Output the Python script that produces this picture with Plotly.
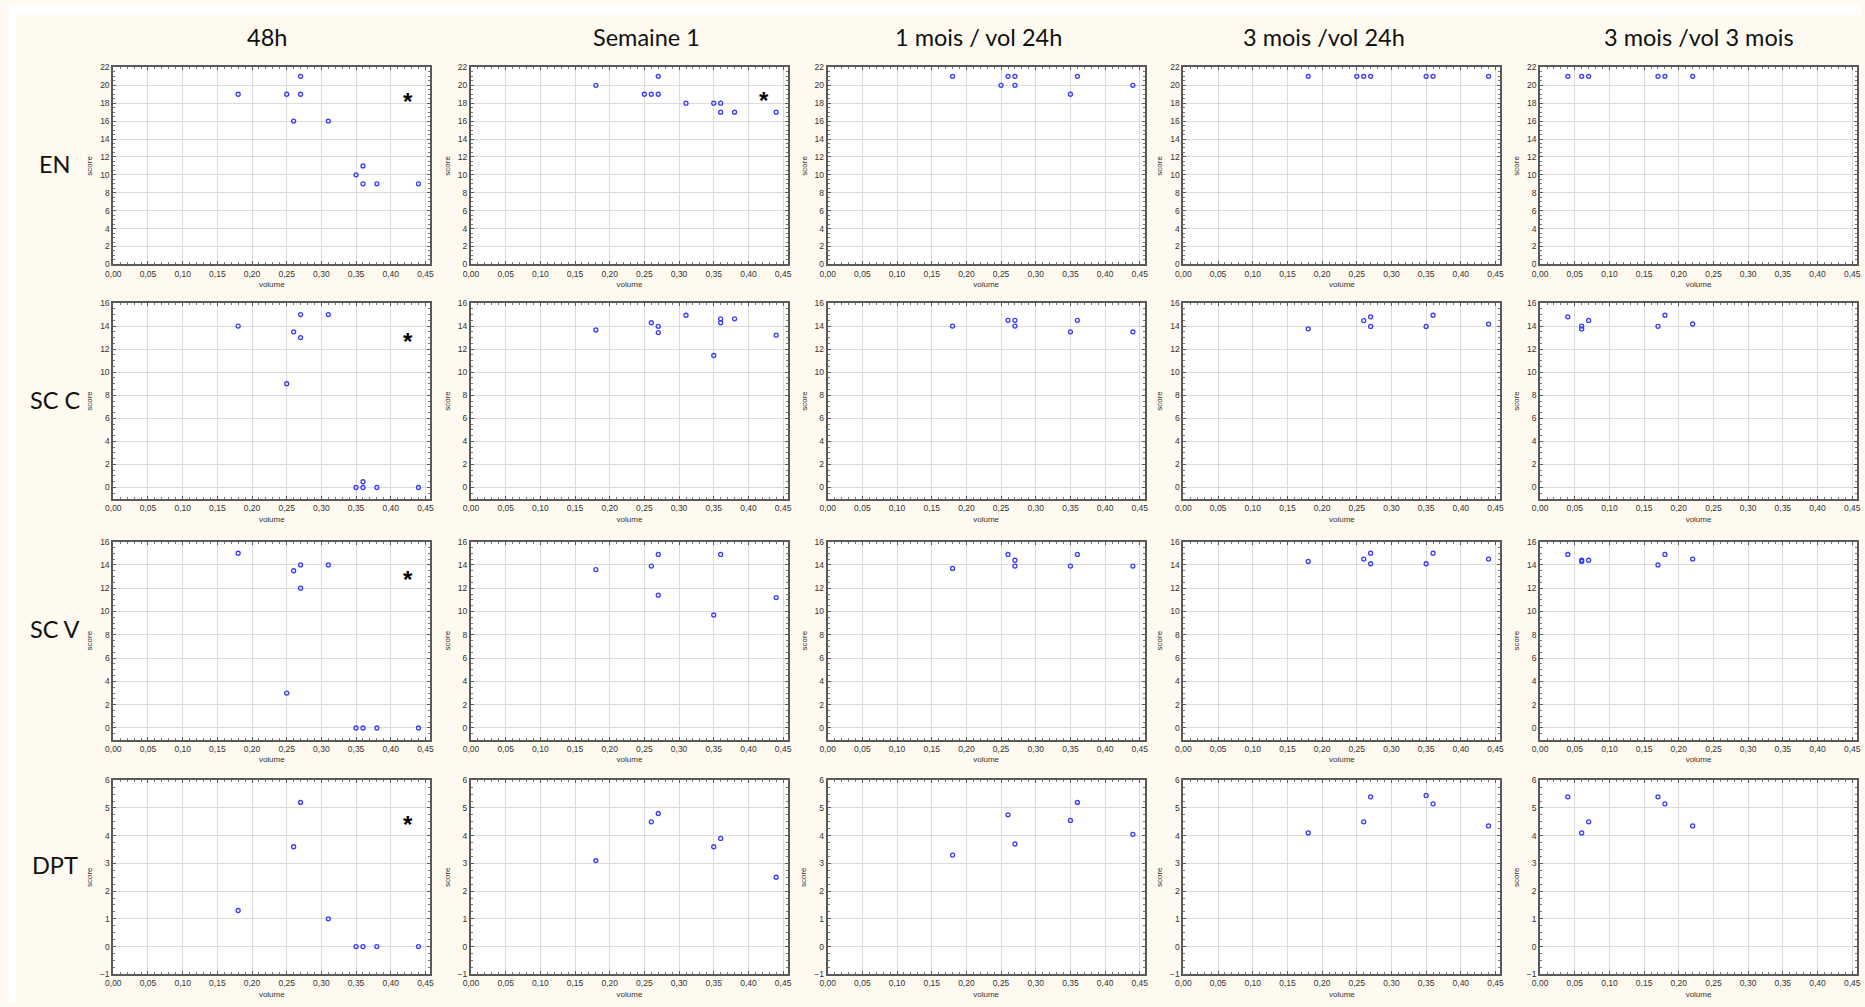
import plotly.graph_objects as go

W, H = 1865, 1007

columns = ["48h", "Semaine 1", "1 mois / vol 24h", "3 mois /vol 24h", "3 mois /vol 3 mois"]
rows = ["EN", "SC C", "SC V", "DPT"]

# ---- EN ----
en_48h_x = [0.18, 0.25, 0.27, 0.27, 0.26, 0.31, 0.35, 0.36, 0.36, 0.38, 0.44]
en_48h_y = [19, 19, 21, 19, 16, 16, 10, 11, 9, 9, 9]
en_s1_x = [0.18, 0.25, 0.26, 0.27, 0.27, 0.31, 0.35, 0.36, 0.36, 0.38, 0.44]
en_s1_y = [20, 19, 19, 21, 19, 18, 18, 18, 17, 17, 17]
en_m1_x = [0.18, 0.25, 0.26, 0.27, 0.27, 0.35, 0.36, 0.44]
en_m1_y = [21, 20, 21, 21, 20, 19, 21, 20]
en_m3_x = [0.18, 0.25, 0.26, 0.27, 0.35, 0.36, 0.44]
en_m3_y = [21, 21, 21, 21, 21, 21, 21]
en_m3v_x = [0.04, 0.06, 0.07, 0.17, 0.18, 0.22]
en_m3v_y = [21, 21, 21, 21, 21, 21]

# ---- SC C ----
scc_48h_x = [0.18, 0.26, 0.27, 0.27, 0.31, 0.25, 0.35, 0.36, 0.36, 0.38, 0.44]
scc_48h_y = [14, 13.5, 15, 13, 15, 9, 0, 0.5, 0, 0, 0]
scc_s1_x = [0.18, 0.26, 0.27, 0.27, 0.31, 0.35, 0.36, 0.36, 0.38, 0.44]
scc_s1_y = [13.67, 14.29, 13.98, 13.44, 14.94, 11.45, 14.63, 14.29, 14.63, 13.21]
scc_m1_x = [0.18, 0.26, 0.27, 0.27, 0.35, 0.36, 0.44]
scc_m1_y = [14, 14.5, 14.5, 14, 13.5, 14.5, 13.5]
scc_m3_x = [0.18, 0.26, 0.27, 0.27, 0.35, 0.36, 0.44]
scc_m3_y = [13.76, 14.48, 14.8, 13.97, 13.97, 14.94, 14.17]
scc_m3v_x = [0.04, 0.06, 0.06, 0.07, 0.17, 0.18, 0.22]
scc_m3v_y = [14.8, 14.0, 13.75, 14.49, 13.98, 14.94, 14.18]

# ---- SC V ----
scv_48h_x = [0.18, 0.26, 0.27, 0.27, 0.31, 0.25, 0.35, 0.36, 0.38, 0.44]
scv_48h_y = [15, 13.5, 14, 12, 14, 3, 0, 0, 0, 0]
scv_s1_x = [0.18, 0.26, 0.27, 0.27, 0.35, 0.36, 0.44]
scv_s1_y = [13.6, 13.9, 14.9, 11.4, 9.7, 14.9, 11.2]
scv_m1_x = [0.18, 0.26, 0.27, 0.27, 0.35, 0.36, 0.44]
scv_m1_y = [13.7, 14.9, 14.4, 13.9, 13.9, 14.9, 13.9]
scv_m3_x = [0.18, 0.26, 0.27, 0.27, 0.35, 0.36, 0.44]
scv_m3_y = [14.3, 14.5, 15.0, 14.1, 14.1, 15.0, 14.5]
scv_m3v_x = [0.04, 0.06, 0.06, 0.07, 0.17, 0.18, 0.22]
scv_m3v_y = [14.9, 14.3, 14.4, 14.4, 14.0, 14.9, 14.5]

# ---- DPT ----
dpt_48h_x = [0.18, 0.26, 0.27, 0.31, 0.35, 0.36, 0.38, 0.44]
dpt_48h_y = [1.3, 3.6, 5.2, 1.0, 0, 0, 0, 0]
dpt_s1_x = [0.18, 0.26, 0.27, 0.35, 0.36, 0.44]
dpt_s1_y = [3.1, 4.5, 4.8, 3.6, 3.9, 2.5]
dpt_m1_x = [0.18, 0.26, 0.27, 0.35, 0.36, 0.44]
dpt_m1_y = [3.3, 4.75, 3.7, 4.55, 5.2, 4.05]
dpt_m3_x = [0.18, 0.26, 0.27, 0.35, 0.36, 0.44]
dpt_m3_y = [4.1, 4.5, 5.4, 5.45, 5.15, 4.35]
dpt_m3v_x = [0.04, 0.06, 0.07, 0.17, 0.18, 0.22]
dpt_m3v_y = [5.4, 4.1, 4.5, 5.4, 5.15, 4.35]

# significance markers (row, col, x, y)
star_rows = [0, 0, 1, 2, 3]
star_cols = [0, 1, 0, 0, 0]
star_x = [0.425, 0.423, 0.425, 0.425, 0.425]
star_y = [18.7, 18.9, 13.1, 13.2, 4.6]

data = [
    [(en_48h_x, en_48h_y), (en_s1_x, en_s1_y), (en_m1_x, en_m1_y), (en_m3_x, en_m3_y), (en_m3v_x, en_m3v_y)],
    [(scc_48h_x, scc_48h_y), (scc_s1_x, scc_s1_y), (scc_m1_x, scc_m1_y), (scc_m3_x, scc_m3_y), (scc_m3v_x, scc_m3v_y)],
    [(scv_48h_x, scv_48h_y), (scv_s1_x, scv_s1_y), (scv_m1_x, scv_m1_y), (scv_m3_x, scv_m3_y), (scv_m3v_x, scv_m3v_y)],
    [(dpt_48h_x, dpt_48h_y), (dpt_s1_x, dpt_s1_y), (dpt_m1_x, dpt_m1_y), (dpt_m3_x, dpt_m3_y), (dpt_m3v_x, dpt_m3v_y)],
]

y_ranges = [[0, 22], [-1, 16], [-1, 16], [-1, 6]]
y_dticks = [2, 2, 2, 1]

# page-pixel layout
col_left = [106, 466, 825, 1183, 1542]
col_width = 319
row_top = [63, 301, 542, 783]
row_bottom = [262, 499, 742, 979]
col_title_x = [261, 643, 977, 1325, 1702]
col_title_y = 32
row_label_x = 47
row_label_y = [161, 399, 630, 869]


def px_x(p):
    return p / W


def px_y(p):
    return 1 - p / H


fig = go.Figure()

tickfont = dict(family="Liberation Sans, Arial, sans-serif", size=8.5, color="#333333")
titlefont = dict(family="Liberation Sans, Arial, sans-serif", size=8, color="#333333")

for r in range(4):
    for c in range(5):
        idx = r * 5 + c + 1
        xa = "x" if idx == 1 else f"x{idx}"
        ya = "y" if idx == 1 else f"y{idx}"
        xs, ys = data[r][c]
        fig.add_trace(go.Scatter(
            x=xs, y=ys, mode="markers", xaxis=xa, yaxis=ya, showlegend=False, hoverinfo="skip",
            marker=dict(symbol="circle-open", size=4, color="#3a3aff", line=dict(width=1.3, color="#3a3aff")),
        ))
        x0 = px_x(col_left[c])
        x1 = min(px_x(col_left[c] + col_width), 0.999)
        y0 = px_y(row_bottom[r])
        y1 = px_y(row_top[r])
        xkey = "xaxis" if idx == 1 else f"xaxis{idx}"
        ykey = "yaxis" if idx == 1 else f"yaxis{idx}"
        fig.layout[xkey] = dict(
            domain=[x0, x1], anchor=ya, range=[0, 0.457], dtick=0.05, tick0=0,
            tickformat=".2f", showgrid=True, gridcolor="#dcdcdc", gridwidth=1,
            showline=True, linecolor="#5a5a5a", linewidth=2, mirror="allticks",
            ticks="inside", ticklen=3, tickcolor="#5a5a5a", zeroline=False,
            tickfont=tickfont, title=dict(text="volume", font=titlefont, standoff=4),
            minor=dict(dtick=0.01, ticks="inside", ticklen=2, tickcolor="#777777", showgrid=False),
        )
        fig.layout[ykey] = dict(
            domain=[y0, y1], anchor=xa, range=y_ranges[r], dtick=y_dticks[r], tick0=0,
            showgrid=True, gridcolor="#dcdcdc", gridwidth=1,
            showline=True, linecolor="#5a5a5a", linewidth=2, mirror="allticks",
            ticks="inside", ticklen=3, tickcolor="#5a5a5a", zeroline=False,
            tickfont=tickfont, title=dict(text="score", font=titlefont, standoff=6),
            minor=dict(dtick=y_dticks[r] / 4, ticks="inside", ticklen=2, tickcolor="#777777", showgrid=False),
        )

annotations = []
for c, t in enumerate(columns):
    annotations.append(dict(text=t, x=px_x(col_title_x[c]), y=px_y(col_title_y), xref="paper", yref="paper",
                            showarrow=False, xanchor="center", yanchor="middle",
                            font=dict(family="Lato, Open Sans, sans-serif", size=23.5, color="#111111")))
for r, t in enumerate(rows):
    annotations.append(dict(text=t, x=px_x(row_label_x), y=px_y(row_label_y[r]), xref="paper", yref="paper",
                            showarrow=False, xanchor="center", yanchor="middle",
                            font=dict(family="Lato, Open Sans, sans-serif", size=23.5, color="#111111")))
for r, c, sx, sy in zip(star_rows, star_cols, star_x, star_y):
    idx = r * 5 + c + 1
    annotations.append(dict(text="<b>*</b>", x=sx, y=sy,
                            xref="x" if idx == 1 else f"x{idx}", yref="y" if idx == 1 else f"y{idx}",
                            showarrow=False, xanchor="center", yanchor="middle", yshift=-5,
                            font=dict(family="Liberation Sans, Arial, sans-serif", size=24, color="#000000")))

fig.update_layout(
    width=W, height=H, margin=dict(l=0, r=0, t=0, b=0),
    paper_bgcolor="#fefaef", plot_bgcolor="#ffffff",
    separators=", ",
    hovermode=False,
    annotations=annotations,
    shapes=[
        dict(type="rect", xref="paper", yref="paper", x0=0, x1=1, y0=px_y(10), y1=1,
             fillcolor="#ffffff", line=dict(width=0), layer="below"),
        dict(type="rect", xref="paper", yref="paper", x0=0, x1=px_x(8), y0=0, y1=1,
             fillcolor="#ffffff", line=dict(width=0), layer="below"),
    ],
)

fig.write_html(
    "out.html",
    config={"displayModeBar": False},
    post_script="document.body.style.margin='0';document.body.style.overflow='hidden';",
)
